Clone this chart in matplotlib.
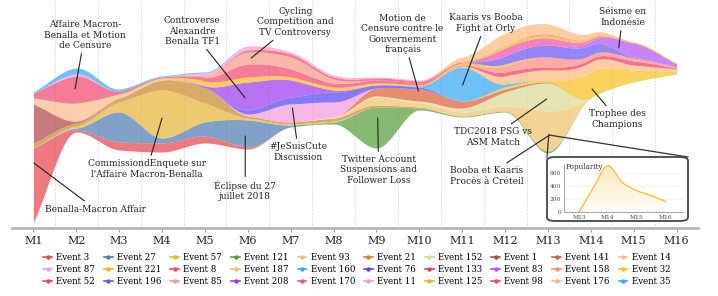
import numpy as np
import matplotlib
matplotlib.use('Agg')
import matplotlib.pyplot as plt
from matplotlib.lines import Line2D
from matplotlib.patches import FancyBboxPatch

plt.rcParams['font.family'] = ['DejaVu Serif']

months = np.arange(1, 17)
month_labels = ['M%d' % m for m in months]

# bottom edge of the stream, per month
baseline = [6, 96, 78, 76, 85, 79, 101, 104, 80, 118, 111, 116, 75, 130, 146, 154]

# popularity per event per month (stacked bottom -> top in this order)
e3   = [74, 2, 8, 9, 7, 2, 0, 0, 0, 0, 0, 0, 0, 0, 0, 0]
e121 = [0, 0, 0, 0, 0, 0, 0, 2, 41, 2, 1, 1, 2, 0, 0, 0]
e27  = [0, 2, 30, 5, 14, 27, 2, 0, 0, 0, 0, 0, 0, 0, 0, 0]
e57  = [0, 2, 10, 48, 19, 2, 1, 1, 0, 0, 0, 0, 0, 0, 0, 0]
e21  = [5, 3, 4, 10, 15, 2, 2, 3, 2, 1, 0, 0, 0, 0, 0, 0]
e93  = [0, 0, 0, 0, 0, 0, 0, 0, 8, 4, 4, 5, 40, 0, 0, 0]
e152 = [0, 0, 0, 0, 0, 0, 0, 1, 1, 2, 4, 14, 28, 0, 0, 0]
e1   = [39, 2, 0, 0, 0, 0, 0, 0, 0, 0, 0, 0, 0, 0, 0, 0]
e141 = [0, 0, 0, 0, 0, 0, 0, 0, 8, 12, 7, 3, 1, 0, 0, 0]
e14  = [6, 18, 3, 1, 0, 0, 0, 0, 0, 0, 0, 0, 0, 0, 0, 0]
e32  = [0, 0, 0, 0, 0, 0, 0, 0, 0, 0, 0, 2, 2, 26, 12, 3]
e87  = [0, 0, 0, 0, 0, 2, 18, 15, 0, 0, 0, 0, 0, 0, 0, 0]
e76  = [0, 0, 0, 0, 0, 4, 7, 10, 3, 2, 0, 0, 0, 0, 0, 0]
e208 = [0, 0, 0, 0, 2, 28, 17, 2, 0, 0, 0, 0, 0, 0, 0, 0]
e160 = [0, 0, 0, 0, 0, 0, 0, 0, 0, 1, 34, 3, 0, 0, 0, 0]
e187 = [0, 0, 0, 0, 0, 0, 0, 0, 0, 0, 1, 8, 10, 10, 5, 2]
e133 = [0, 0, 0, 0, 0, 0, 0, 0, 0, 0, 1, 4, 3, 3, 4, 1]
e158 = [0, 0, 0, 0, 0, 0, 0, 0, 0, 0, 0, 6, 10, 4, 3, 1]
e221 = [0, 0, 1, 1, 5, 5, 3, 3, 2, 1, 2, 2, 0, 0, 0, 0]
e8   = [5, 27, 3, 1, 4, 13, 8, 4, 3, 2, 1, 0, 0, 0, 0, 0]
e85  = [0, 0, 0, 0, 2, 12, 12, 4, 0, 0, 0, 0, 0, 0, 0, 0]
e52  = [0, 0, 0, 0, 0, 2, 3, 2, 2, 2, 0, 0, 0, 0, 0, 0]
e196 = [0, 0, 0, 0, 0, 0, 0, 0, 0, 0, 0, 8, 12, 10, 1, 0]
e83  = [0, 0, 0, 0, 0, 0, 0, 0, 0, 0, 0, 0, 0, 4, 14, 3]
e170 = [0, 0, 0, 0, 0, 0, 0, 0, 0, 0, 0, 8, 7, 2, 0, 0]
e11  = [0, 2, 0, 0, 2, 4, 2, 2, 1, 1, 0, 0, 0, 0, 0, 0]
e125 = [0, 0, 0, 0, 0, 0, 0, 0, 0, 0, 1, 3, 3, 2, 1, 1]
e98  = [0, 0, 0, 0, 0, 0, 0, 0, 0, 0, 0, 0, 1, 0, 0, 0]
e176 = [0, 0, 0, 0, 0, 0, 0, 0, 0, 0, 4, 12, 10, 4, 0, 0]
e35  = [1, 6, 2, 1, 1, 0, 0, 0, 0, 0, 0, 0, 0, 0, 0, 0]

series = {
    3: e3, 121: e121, 27: e27, 57: e57, 21: e21, 93: e93, 152: e152, 1: e1,
    141: e141, 14: e14, 32: e32, 87: e87, 76: e76, 208: e208, 160: e160,
    187: e187, 133: e133, 158: e158, 221: e221, 8: e8, 85: e85, 52: e52,
    196: e196, 83: e83, 170: e170, 11: e11, 125: e125, 98: e98, 176: e176, 35: e35,
}
colors = {
    3: '#e8474f', 27: '#4f7eb0', 57: '#e6b53c', 121: '#58a03c', 93: '#f0c36e',
    21: '#c88a2e', 152: '#dcdc96', 1: '#b04a4a', 141: '#e0603a', 14: '#f8bc8c',
    87: '#f49ae0', 221: '#f8b824', 8: '#f04a6e', 187: '#ffba80', 160: '#3aaaf8',
    76: '#5848f0', 133: '#f03a64', 83: '#b058f8', 158: '#ff8c7c', 32: '#f8c020',
    52: '#f04a5e', 196: '#6858f8', 85: '#f89c8c', 208: '#a03cf0', 170: '#f050a8',
    11: '#f49ae0', 125: '#f8b020', 98: '#f04a6a', 176: '#ffba80', 35: '#3aa8f8',
}
legend_rows = [
    [3, 27, 57, 121, 93, 21, 152, 1, 141, 14],
    [87, 221, 8, 187, 160, 76, 133, 83, 158, 32],
    [52, 196, 85, 208, 170, 11, 125, 98, 176, 35],
]

# inset: popularity of the Trophee des Champions event
inset_x = [13, 13.5, 14, 14.5, 15, 15.5, 16]
inset_y = [0, 375, 710, 450, 325, 250, 160]

annotations = [
    ('Benalla-Macron Affair', (1.01, 65), (2.44, 19)),
    ('Affaire Macron-\nBenalla et Motion\nde Censure', (1.97, 139), (2.20, 193)),
    ('Controverse\nAlexandre\nBenalla TF1', (5.94, 130), (4.70, 197)),
    ('Cycling\nCompetition and\nTV Controversy', (6.08, 170), (7.11, 206)),
    ('CommissiondEnquete sur\nl\'Affaire Macron-Benalla', (4.00, 110), (3.65, 59)),
    ('Éclipse du 27\njuillet 2018', (5.94, 92), (5.94, 37)),
    ('#JeSuisCute\nDiscussion', (7.04, 120), (7.18, 76)),
    ('Twitter Account\nSuspensions and\nFollower Loss', (9.03, 110), (9.05, 58)),
    ('Motion de\nCensure contre le\nGouvernement\nfrançais', (9.98, 137), (9.61, 194)),
    ('Kaaris vs Booba\nFight at Orly', (11.01, 143), (11.55, 205)),
    ('Séisme en\nIndonésie', (14.65, 180), (14.74, 211)),
    ('TDC2018 PSG vs\nASM Match', (12.97, 129), (11.71, 91)),
    ('Booba et Kaaris\nProcès à Créteil', (13.04, 93), (11.57, 52)),
    ('Trophee des\nChampions', (14.03, 139), (14.62, 109)),
]


def smooth(x, y, xs):
    # monotone cubic (pchip) so the bands stay non-negative
    x = np.asarray(x, float)
    y = np.asarray(y, float)
    h = np.diff(x)
    d = np.diff(y) / h
    m = np.zeros_like(y)
    for k in range(1, len(x) - 1):
        if d[k - 1] * d[k] > 0:
            w1 = 2 * h[k] + h[k - 1]
            w2 = h[k] + 2 * h[k - 1]
            m[k] = (w1 + w2) / (w1 / d[k - 1] + w2 / d[k])
    m[0] = d[0]
    m[-1] = d[-1]
    idx = np.clip(np.searchsorted(x, xs) - 1, 0, len(x) - 2)
    t = (xs - x[idx]) / h[idx]
    h00 = 2 * t**3 - 3 * t**2 + 1
    h10 = t**3 - 2 * t**2 + t
    h01 = -2 * t**3 + 3 * t**2
    h11 = t**3 - t**2
    return h00 * y[idx] + h10 * h[idx] * m[idx] + h01 * y[idx + 1] + h11 * h[idx] * m[idx + 1]


fig = plt.figure(figsize=(7.18, 2.96), dpi=100)
ax = fig.add_axes([12 / 718, 1 - 228 / 296, 686 / 718, 228 / 296])

xs = np.linspace(1, 16, 800)
cur = smooth(months, baseline, xs)
for ev, vals in series.items():
    th = np.clip(smooth(months, vals, xs), 0, None)
    ax.fill_between(xs, cur, cur + th, color=colors[ev], alpha=0.72, lw=0, zorder=2)
    cur = cur + th

for xm in np.arange(1.5, 16.5, 1):
    ax.axvline(xm, color='#d8d8d8', lw=0.7, ls=(0, (1.5, 1.5)), zorder=0)

ax.set_xlim(0.5, 16.5)
ax.set_ylim(0, 228)
ax.set_xticks(months)
ax.set_xticklabels(month_labels, fontsize=8)
ax.set_yticks([])
for s in ['top', 'right', 'left']:
    ax.spines[s].set_visible(False)
ax.spines['bottom'].set_color('#b8b8b8')
ax.spines['bottom'].set_linewidth(2)
ax.tick_params(axis='x', length=3, color='#999999', pad=3, labelcolor='#222222')

for text, xy, xyt in annotations:
    ax.annotate(text, xy=xy, xytext=xyt, ha='center', va='center',
                fontsize=6.5, color='#222222', linespacing=1.15,
                arrowprops=dict(arrowstyle='-', color='#222222', lw=0.8,
                                shrinkA=1, shrinkB=0), zorder=5)

# legend, row-major across 10 columns
handles = []
for c in range(10):
    for r in range(3):
        ev = legend_rows[r][c]
        handles.append(Line2D([0], [0], color=colors[ev], lw=1.2, marker='o',
                              markersize=2.2, label='Event %d' % ev))
fig.legend(handles=handles, ncol=10, loc='upper center', bbox_to_anchor=(0.497, 1 - 249 / 296),
           frameon=False, fontsize=6.2, handlelength=1.0, handletextpad=0.5,
           columnspacing=1.05, labelspacing=0.35, borderpad=0)

# zoom connector and inset box
p0 = ax.transData.transform((13.02, 93))
inv = fig.transFigure.inverted()
pa = inv.transform(p0)
for px in [(547, 157), (688, 157)]:
    fig.add_artist(Line2D([pa[0], px[0] / 718], [pa[1], 1 - px[1] / 296],
                          color='#333333', lw=0.9, zorder=6))
box = FancyBboxPatch((547 / 718, 1 - 221 / 296), 141 / 718, 64 / 296,
                     boxstyle='round,pad=0,rounding_size=0.012', transform=fig.transFigure,
                     facecolor='white', edgecolor='#444444', lw=1.3, zorder=7)
fig.add_artist(box)

iax = fig.add_axes([564 / 718, 1 - 212 / 296, 119 / 718, 48 / 296], zorder=8)
ixs = np.linspace(13, 16, 200)
iys = np.clip(smooth(inset_x, inset_y, ixs), 0, None)
poly = iax.fill_between(ixs, 0, iys, color='none', lw=0)
grad = np.linspace(0.05, 0.35, 100).reshape(-1, 1)
img = iax.imshow(grad, extent=[13, 16, 0, 720], origin='lower', aspect='auto',
                 cmap=matplotlib.colors.LinearSegmentedColormap.from_list('g', ['white', '#f8c040']),
                 vmin=0, vmax=1, zorder=1)
img.set_clip_path(poly.get_paths()[0], transform=iax.transData)
iax.plot(ixs, iys, color='#f8c040', lw=1.0, zorder=3)
iax.set_xlim(12.48, 16.59)
iax.set_ylim(0, 735)
iax.set_xticks([13, 14, 15, 16])
iax.set_xticklabels(['M13', 'M14', 'M15', 'M16'], fontsize=4.2)
iax.set_yticks([0, 200, 400, 600])
iax.set_yticklabels(['0', '200', '400', '600'], fontsize=4.2)
iax.tick_params(length=0, pad=2, labelcolor='#444444')
iax.grid(axis='y', color='#eeeeee', lw=0.5)
iax.set_axisbelow(True)
for s in ['top', 'right']:
    iax.spines[s].set_visible(False)
for s in ['left', 'bottom']:
    iax.spines[s].set_color('#aaaaaa')
    iax.spines[s].set_linewidth(0.8)
iax.patch.set_alpha(0)
iax.text(13.0 - 0.45, 690, 'Popularity', fontsize=5.2, color='#333333', va='center')

fig.savefig('out.png', dpi=100)
